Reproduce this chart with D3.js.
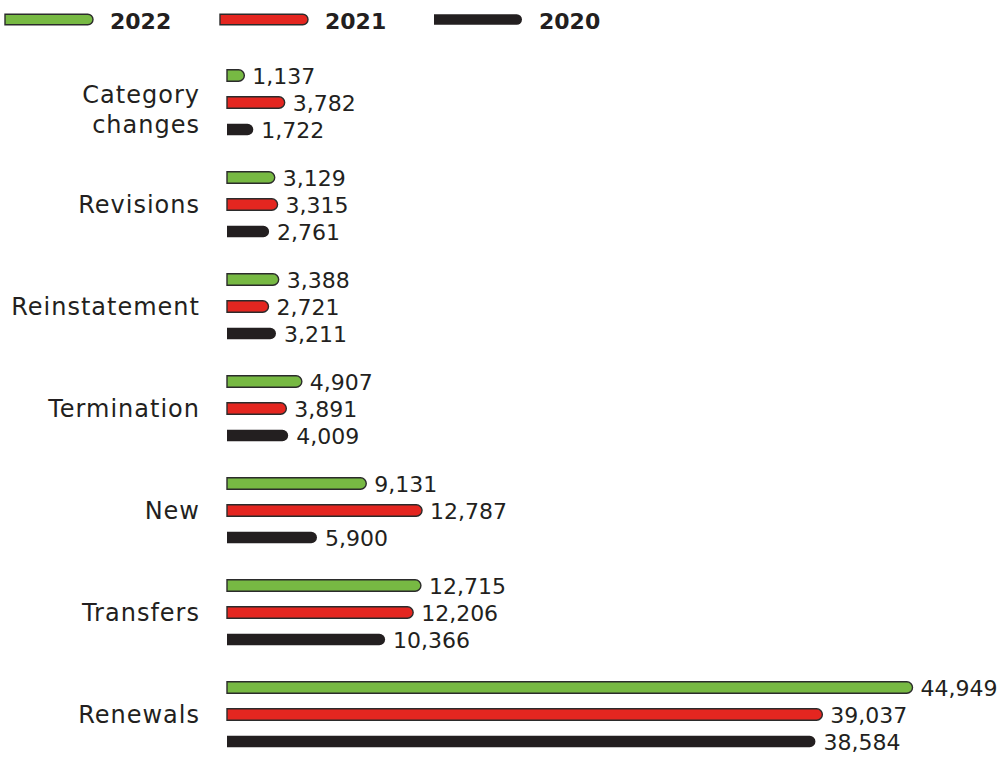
<!DOCTYPE html>
<html>
<head>
<meta charset="utf-8">
<script src="https://cdn.jsdelivr.net/npm/d3@7"></script>
<style>
  html, body { margin: 0; padding: 0; background: #ffffff; }
  svg { display: block; }
  text { font-family: "DejaVu Sans", sans-serif; fill: #231f20; }
</style>
</head>
<body>
<svg id="chart" width="1004" height="757"></svg>
<script>
// Transaction categories, top to bottom
const categories = ["Category changes", "Revisions", "Reinstatement", "Termination", "New", "Transfers", "Renewals"];
const years = ["2022", "2021", "2020"];

const values2022 = [1137, 3129, 3388, 4907, 9131, 12715, 44949];
const values2021 = [3782, 3315, 2721, 3891, 12787, 12206, 39037];
const values2020 = [1722, 2761, 3211, 4009, 5900, 10366, 38584];

const seriesValues = { "2022": values2022, "2021": values2021, "2020": values2020 };
const fills = { "2022": "#77b943", "2021": "#e42620", "2020": "#231f20" };
const strokes = { "2022": "#2b2b2b", "2021": "#2b2b2b", "2020": "none" };

const svg = d3.select("#chart");
const fmt = d3.format(",");

const x = d3.scaleLinear().domain([0, 45000]).range([227, 913.3]);
const y = d3.scaleBand().domain(categories).range([51, 765]).padding(0);
const offset = d3.scalePoint().domain(years).range([-26.5, 27.5]);
const barH = 11.5;

// bar with a square left end and a rounded right end
function barPath(x0, x1, yc, h) {
  const r = h / 2;
  const top = yc - r, bot = yc + r;
  const xe = Math.max(x0, x1 - r);
  return `M${x0},${top}H${xe}A${r},${r} 0 0 1 ${xe},${bot}H${x0}Z`;
}

const rows = [];
categories.forEach((c, i) => {
  years.forEach(yr => rows.push({ cat: c, year: yr, value: seriesValues[yr][i] }));
});

const center = d => y(d.cat) + y.bandwidth() / 2 + offset(d.year);

svg.append("g").selectAll("path")
  .data(rows)
  .join("path")
  .attr("d", d => barPath(x(0), x(d.value), center(d), barH))
  .attr("fill", d => fills[d.year])
  .attr("stroke", d => strokes[d.year])
  .attr("stroke-width", 1.4);

svg.append("g").selectAll("text")
  .data(rows)
  .join("text")
  .attr("x", d => x(d.value) + 8)
  .attr("y", d => center(d) + 8)
  .attr("font-size", 22)
  .text(d => fmt(d.value));

// category labels, right-aligned against the bars
const catG = svg.append("g");
categories.forEach(c => {
  const words = c === "Category changes" ? ["Category", "changes"] : [c];
  const yc = y(c) + y.bandwidth() / 2;
  const t = catG.append("text")
    .attr("x", 200)
    .attr("text-anchor", "end")
    .attr("font-size", 24)
    .attr("letter-spacing", 1);
  if (words.length === 1) {
    t.attr("y", yc + 9).text(c);
  } else {
    words.forEach((w, k) => {
      t.append("tspan").attr("x", 200).attr("y", yc + 1 + k * 30).text(w);
    });
  }
});

// legend
const legendX = { "2022": 5, "2021": 220, "2020": 434 };
const legend = svg.append("g");
years.forEach(yr => {
  const lx = legendX[yr];
  legend.append("path")
    .attr("d", barPath(lx, lx + 88, 19.5, 10.5))
    .attr("fill", fills[yr])
    .attr("stroke", strokes[yr])
    .attr("stroke-width", 1.4);
  legend.append("text")
    .attr("x", lx + 105)
    .attr("y", 28.5)
    .attr("font-size", 22)
    .attr("font-weight", 700)
    .text(yr);
});
</script>
</body>
</html>
